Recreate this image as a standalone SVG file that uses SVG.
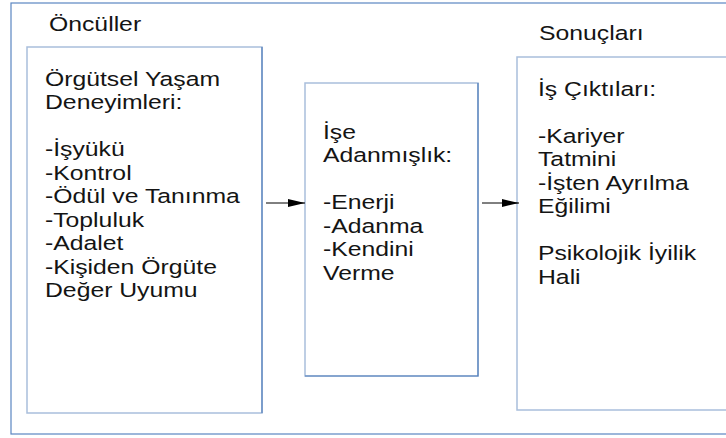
<svg xmlns="http://www.w3.org/2000/svg" width="726" height="438" viewBox="0 0 726 438">
  <style>
    .frame { fill: none; stroke: #5b86c2; stroke-width: 1.2; }
    .box { fill: #ffffff; stroke: #a9bedc; stroke-width: 1.5; }
    .edge { stroke: #4f7dba; stroke-width: 1.2; fill: none; }
    .lbl { font-family: "Liberation Sans", Arial, sans-serif; font-size: 19.5px; fill: #141414; }
    .conn { stroke: #000000; stroke-width: 1; fill: none; }
  </style>
  <defs>
    <marker id="arrow" markerWidth="17" markerHeight="8" refX="17" refY="4" orient="auto" markerUnits="userSpaceOnUse">
      <path d="M0,0 L17,4 L0,8 Z" fill="#000000"/>
    </marker>
  </defs>

  <rect width="726" height="438" fill="#ffffff"/>

  <!-- outer frame, continues past the right edge -->
  <rect class="frame" x="11" y="3" width="730" height="431"/>

  <!-- section captions -->
  <g id="caption-antecedents">
    <text class="lbl" transform="translate(49,30.5) scale(1.27,1)">Öncüller</text>
  </g>
  <g id="caption-outcomes">
    <text class="lbl" transform="translate(539,40) scale(1.27,1)">Sonuçları</text>
  </g>

  <!-- antecedents -->
  <g id="node-experiences">
    <rect class="box" x="27" y="47" width="235" height="366"/>
    <path class="edge" d="M262,47 V413"/>
    <g transform="translate(45,0) scale(1.27,1)">
      <text class="lbl" x="0" y="86">Örgütsel Yaşam</text>
      <text class="lbl" x="0" y="109.5">Deneyimleri:</text>
      <text class="lbl" x="0" y="156.5">-İşyükü</text>
      <text class="lbl" x="0" y="180">-Kontrol</text>
      <text class="lbl" x="0" y="203.5">-Ödül ve Tanınma</text>
      <text class="lbl" x="0" y="227">-Topluluk</text>
      <text class="lbl" x="0" y="250.5">-Adalet</text>
      <text class="lbl" x="0" y="274">-Kişiden Örgüte</text>
      <text class="lbl" x="0" y="297.5">Değer Uyumu</text>
    </g>
  </g>

  <!-- engagement -->
  <g id="node-engagement">
    <rect class="box" x="305" y="83" width="173" height="293"/>
    <path class="edge" d="M478,83 V376 H305"/>
    <g transform="translate(323,0) scale(1.27,1)">
      <text class="lbl" x="0" y="139">İşe</text>
      <text class="lbl" x="0" y="162.5">Adanmışlık:</text>
      <text class="lbl" x="0" y="209.5">-Enerji</text>
      <text class="lbl" x="0" y="233">-Adanma</text>
      <text class="lbl" x="0" y="256.5">-Kendini</text>
      <text class="lbl" x="0" y="280">Verme</text>
    </g>
  </g>

  <!-- outcomes, box continues past the right edge -->
  <g id="node-outcomes">
    <rect class="box" x="517" y="57" width="230" height="353" stroke-width="2"/>
    <g transform="translate(538,0) scale(1.27,1)">
      <text class="lbl" x="0" y="96">İş Çıktıları:</text>
      <text class="lbl" x="0" y="143">-Kariyer</text>
      <text class="lbl" x="0" y="166.5">Tatmini</text>
      <text class="lbl" x="0" y="190">-İşten Ayrılma</text>
      <text class="lbl" x="0" y="213.5">Eğilimi</text>
      <text class="lbl" x="0" y="260.5">Psikolojik İyilik</text>
      <text class="lbl" x="0" y="284">Hali</text>
    </g>
  </g>

  <!-- connectors -->
  <g id="connectors">
    <line class="conn" x1="266" y1="203" x2="305" y2="203" marker-end="url(#arrow)"/>
    <line class="conn" x1="482" y1="203" x2="519" y2="203" marker-end="url(#arrow)"/>
  </g>
</svg>
